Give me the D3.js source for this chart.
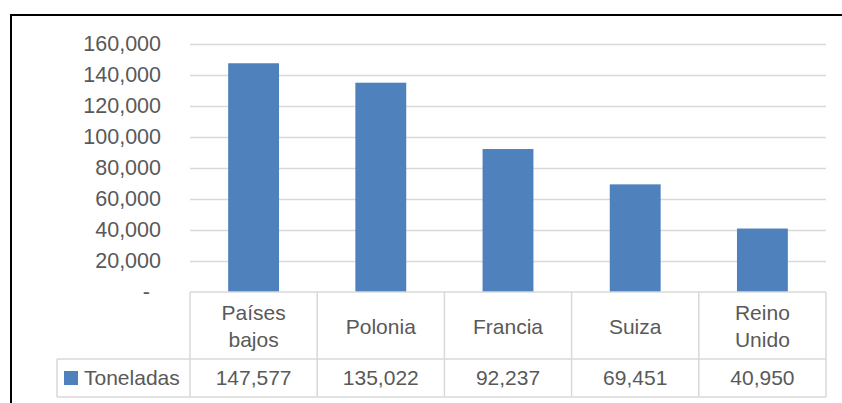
<!DOCTYPE html>
<html>
<head>
  <meta charset="utf-8">
  <style>
    body { margin: 0; background: #fff; }
    svg { display: block; font-family: "Liberation Sans", Arial, sans-serif; }
  </style>
</head>
<body>
  <div id="chart"></div>
  <script src="https://d3js.org/d3.v7.min.js"></script>
  <script>
    // data
    var paises = ['Países bajos', 'Polonia', 'Francia', 'Suiza', 'Reino Unido'];
    var toneladas = [147577, 135022, 92237, 69451, 40950];
    var serie = 'Toneladas';
    var yTicks = [0, 20000, 40000, 60000, 80000, 100000, 120000, 140000, 160000];

    var W = 842, H = 403;
    var plot = {left: 190, right: 826, top: 44, bottom: 292};
    var rowCat = 67, rowVal = 38;   // table row heights
    var textColor = '#595959', gridColor = '#d9d9d9', barColor = '#4f81bd';

    var svg = d3.select('#chart').append('svg')
        .attr('width', W)
        .attr('height', H);

    // frame (cut off at right and bottom like the screenshot)
    svg.append('rect')
        .attr('x', 11).attr('y', 15)
        .attr('width', 840).attr('height', 400)
        .attr('fill', '#fff')
        .attr('stroke', '#000')
        .attr('stroke-width', 2);

    var x = d3.scaleBand()
        .domain(paises)
        .range([plot.left, plot.right])
        .padding(0);

    var y = d3.scaleLinear()
        .domain([0, 160000])
        .range([plot.bottom, plot.top]);

    // gridlines
    svg.append('g')
        .attr('transform', 'translate(' + plot.left + ',0)')
        .call(d3.axisLeft(y).tickValues(yTicks.slice(1)).tickSize(-(plot.right - plot.left)).tickFormat(''))
        .call(g => g.select('.domain').remove())
        .call(g => g.selectAll('line').attr('stroke', gridColor).attr('stroke-width', 1.5));

    // y labels
    var fmt = d3.format(',');
    svg.append('g')
        .attr('transform', 'translate(161,0)')
        .call(d3.axisLeft(y).tickValues(yTicks).tickSize(0).tickPadding(0)
          .tickFormat(d => d === 0 ? '-' : fmt(d)))
        .call(g => g.select('.domain').remove())
        .call(g => g.selectAll('text')
          .attr('fill', textColor)
          .style('font-size', '21.5px')
          .style('font-family', '"Liberation Sans", Arial, sans-serif')
          .attr('dx', d => d === 0 ? -11 : 0));

    // bars
    var bw = x.bandwidth() * 0.4;
    svg.append('g')
        .selectAll('rect')
        .data(toneladas)
        .enter().append('rect')
        .attr('x', (d, i) => x(paises[i]) + (x.bandwidth() - bw) / 2)
        .attr('y', d => y(d))
        .attr('width', bw)
        .attr('height', d => y(0) - y(d))
        .attr('fill', barColor);

    // data table
    var tbl = svg.append('g');
    var yTop = plot.bottom, yMid = plot.bottom + rowCat, yBot = yMid + rowVal;
    var legLeft = 57;

    var lines = [
      [plot.left, yTop, plot.right, yTop],
      [legLeft, yMid, plot.right, yMid],
      [legLeft, yBot, plot.right, yBot],
      [legLeft, yMid, legLeft, yBot]
    ];
    paises.forEach(function (p) {
      lines.push([x(p), yTop, x(p), yBot]);
    });
    lines.push([plot.right, yTop, plot.right, yBot]);

    tbl.selectAll('line')
        .data(lines)
        .enter().append('line')
        .attr('x1', d => d[0]).attr('y1', d => d[1])
        .attr('x2', d => d[2]).attr('y2', d => d[3])
        .attr('stroke', gridColor)
        .attr('stroke-width', 1.5);

    // category names (wrap two-word names onto two lines)
    tbl.selectAll('text.cat')
        .data(paises)
        .enter().append('text')
        .attr('class', 'cat')
        .attr('x', d => x(d) + x.bandwidth() / 2)
        .attr('y', yTop + rowCat / 2)
        .attr('text-anchor', 'middle')
        .attr('fill', textColor)
        .style('font-size', '21px')
        .each(function (d) {
          var words = d.split(' ');
          var t = d3.select(this);
          words.forEach(function (w, i) {
            t.append('tspan')
                .attr('x', x(d) + x.bandwidth() / 2)
                .attr('dy', i === 0 ? ((-(words.length - 1) * 27) / 2 + 8) : 27)
                .text(w);
          });
        });

    // values row
    tbl.selectAll('text.val')
        .data(toneladas)
        .enter().append('text')
        .attr('class', 'val')
        .attr('x', (d, i) => x(paises[i]) + x.bandwidth() / 2)
        .attr('y', yMid + rowVal / 2 + 7)
        .attr('text-anchor', 'middle')
        .attr('fill', textColor)
        .style('font-size', '21px')
        .text(d => fmt(d));

    // legend key
    tbl.append('rect')
        .attr('x', 64).attr('y', yMid + rowVal / 2 - 7)
        .attr('width', 14).attr('height', 14)
        .attr('fill', barColor);
    tbl.append('text')
        .attr('x', 84)
        .attr('y', yMid + rowVal / 2 + 7)
        .attr('fill', textColor)
        .style('font-size', '21px')
        .text(serie);
  </script>
</body>
</html>
